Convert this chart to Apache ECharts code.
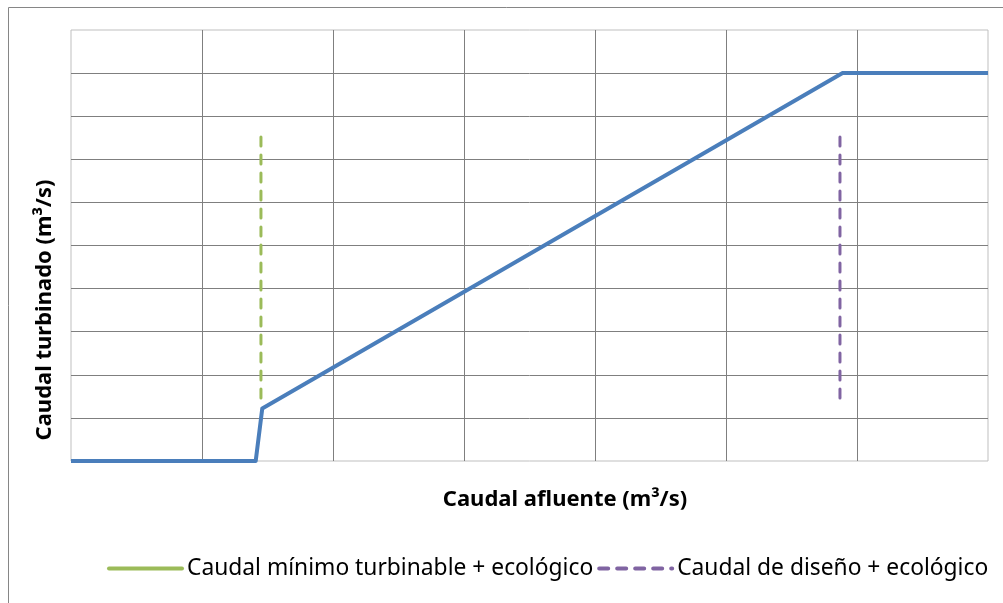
<!DOCTYPE html>
<html>
<head>
<meta charset="utf-8">
<script src="https://cdn.jsdelivr.net/npm/echarts@6/dist/echarts.min.js"></script>
<style>
  html, body { margin: 0; padding: 0; background: #fff; }
  #chart { width: 1003px; height: 603px; }
</style>
</head>
<body>
<div id="chart"></div>
<script>
// caudal afluente (x) vs caudal turbinado (y), unitless grid steps
const turbinado = [[0, 0], [1.41, 0], [1.46, 1.22], [5.89, 9], [7, 9]];
const minimoEco = [[1.45, 1.46], [1.45, 7.54]];
const disenoEco = [[5.87, 1.46], [5.87, 7.52]];
const seriesNames = ["Caudal mínimo turbinable + ecológico", "Caudal de diseño + ecológico"];
const xTitle = "Caudal afluente (m³/s)";
const yTitle = "Caudal turbinado (m³/s)";

const font = "Noto Sans";
const chart = echarts.init(document.getElementById("chart"));

const hideSymbol = { color: "rgba(0,0,0,0)", borderColor: "rgba(0,0,0,0)", borderWidth: 0 };

const option = {
  animation: false,
  grid: {
    left: 71, top: 30, width: 917, height: 431,
    show: true, borderColor: "#bfbfbf", borderWidth: 1
  },
  xAxis: {
    type: "value", min: 0, max: 7, interval: 1,
    axisLine: { show: false },
    axisTick: { show: false },
    axisLabel: { show: false },
    splitLine: { show: true, showMinLine: false, showMaxLine: false, lineStyle: { color: "#7f7f7f", width: 1 } }
  },
  yAxis: {
    type: "value", min: 0, max: 10, interval: 1,
    axisLine: { show: false },
    axisTick: { show: false },
    axisLabel: { show: false },
    splitLine: { show: true, showMinLine: false, showMaxLine: false, lineStyle: { color: "#7f7f7f", width: 1 } }
  },
  legend: {
    left: 107, top: 557, width: 896, padding: 0,
    itemWidth: 73, itemHeight: 20, itemGap: 4,
    textStyle: { fontFamily: font, fontSize: 22.8, color: "#000" },
    data: [
      { name: seriesNames[0], itemStyle: hideSymbol, lineStyle: { type: "solid", width: 4, cap: "round" } },
      { name: seriesNames[1], itemStyle: hideSymbol, lineStyle: { type: [9, 9], width: 4, cap: "round" } }
    ]
  },
  graphic: [
    { type: "rect", shape: { x: 8.5, y: 7.5, width: 1200, height: 800 }, style: { fill: null, stroke: "#868686", lineWidth: 1 }, z: -10, silent: true },
    { type: "text", x: 565, y: 500, style: { text: xTitle, fontFamily: font, fontWeight: "bold", fontSize: 22, fill: "#000", align: "center", verticalAlign: "middle" } },
    { type: "text", x: 45, y: 310, rotation: Math.PI / 2, style: { text: yTitle, fontFamily: font, fontWeight: "bold", fontSize: 22, fill: "#000", align: "center", verticalAlign: "middle" } }
  ],
  series: [
    {
      name: "turbinado", type: "line", data: turbinado,
      symbol: "none", z: 3,
      lineStyle: { color: "#4a7ebb", width: 4, join: "round" }
    },
    {
      name: seriesNames[0], type: "line", data: minimoEco,
      symbol: "none", z: 2,
      itemStyle: { color: "#9bbb59" },
      lineStyle: { color: "#9bbb59", width: 3, type: [9, 9], cap: "round" }
    },
    {
      name: seriesNames[1], type: "line", data: disenoEco,
      symbol: "none", z: 2,
      itemStyle: { color: "#8064a2" },
      lineStyle: { color: "#8064a2", width: 3, type: [9, 9], cap: "round" }
    }
  ]
};

chart.setOption(option);
</script>
</body>
</html>
